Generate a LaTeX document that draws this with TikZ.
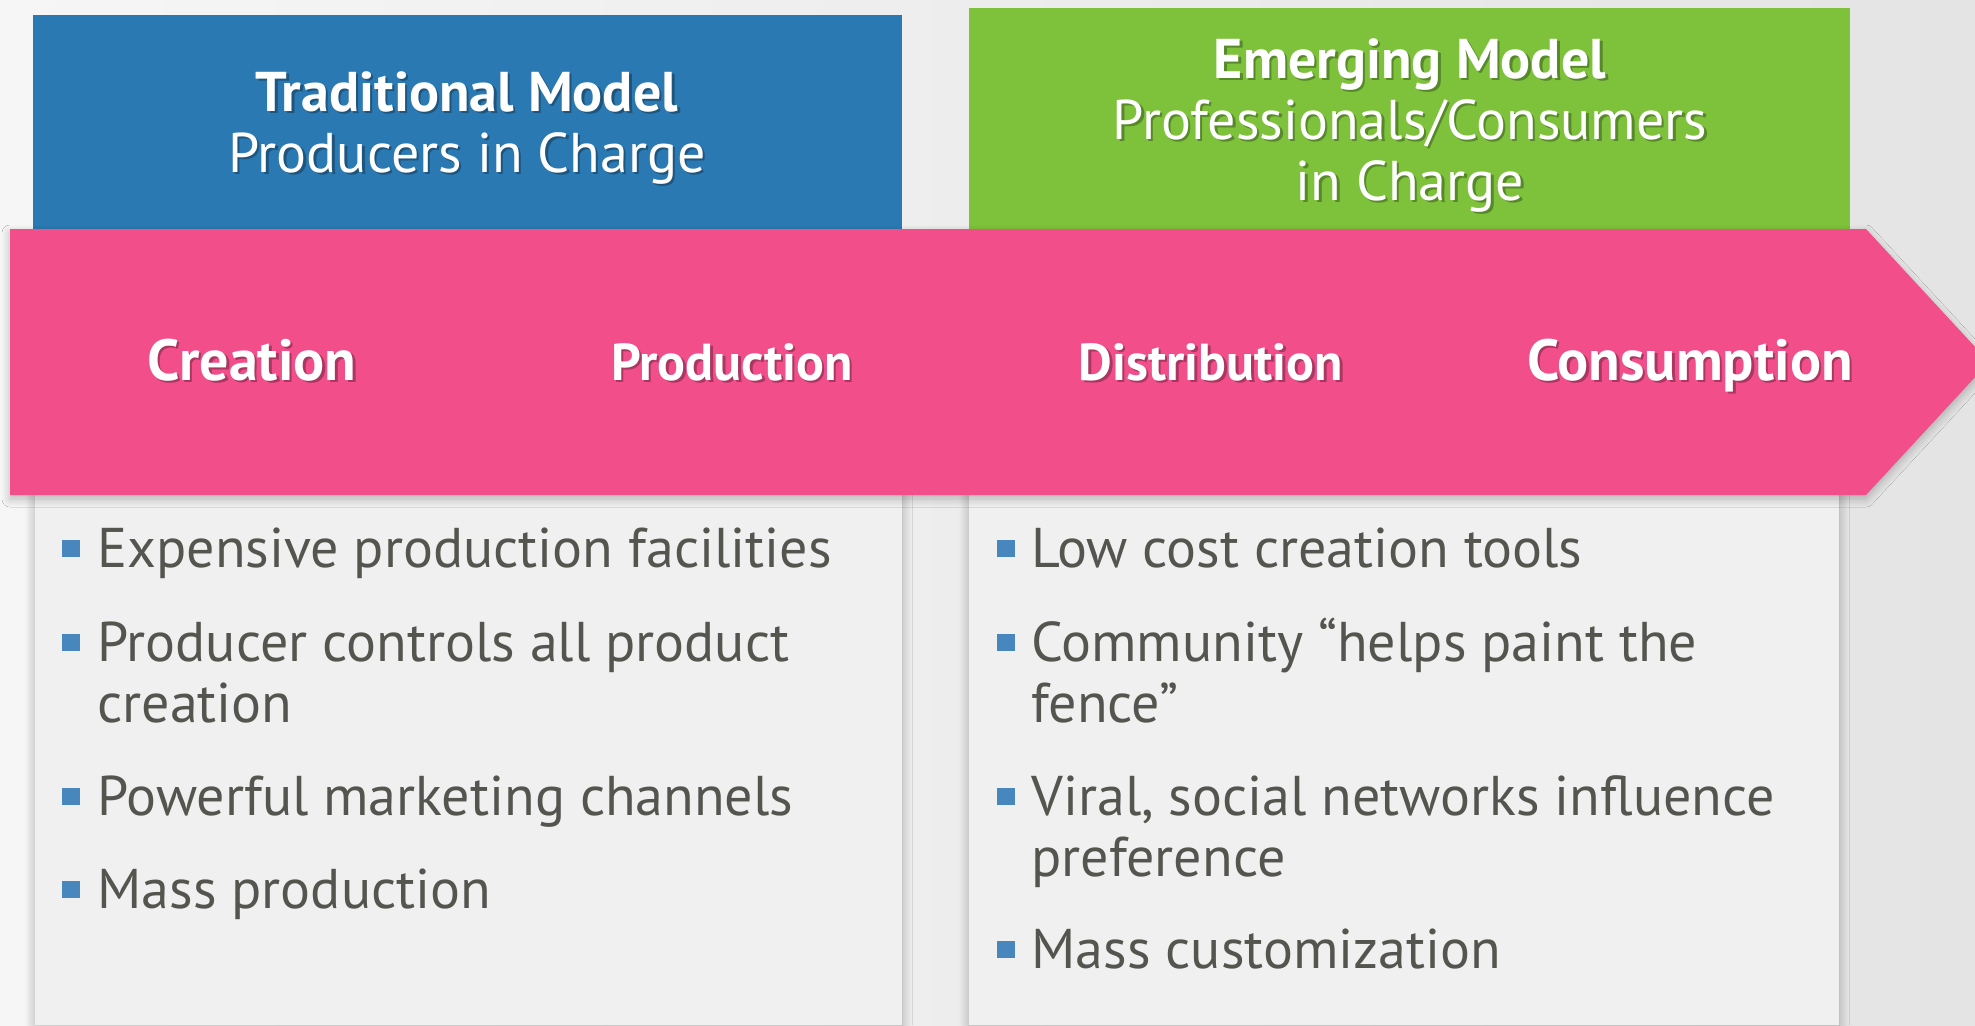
\documentclass[tikz,border=0pt]{standalone}
\usepackage{fontspec}
\setmainfont{PT Sans}
\usetikzlibrary{shadows.blur}
\definecolor{tradblue}{RGB}{43,121,178}
\definecolor{emergegreen}{RGB}{125,194,58}
\definecolor{flowpink}{RGB}{242,78,138}
\definecolor{panelgray}{RGB}{240,240,240}
\definecolor{bgleft}{RGB}{246,246,246}
\definecolor{bgright}{RGB}{228,228,228}
\definecolor{bodytext}{RGB}{85,85,80}
\definecolor{bulletblue}{RGB}{72,134,190}
\newcommand{\shtext}[2]{\leavevmode\rlap{\kern1.2pt\raisebox{-1.2pt}{\color{#1!70!black}#2}}#2}
\tikzset{
  hdrtext/.style={text=white, align=center, anchor=base, font=\fontsize{28}{30.5}\selectfont},
  stagebig/.style={text=white, anchor=base, font=\bfseries\fontsize{29}{32}\selectfont},
  stagesmall/.style={text=white, anchor=base, font=\bfseries\fontsize{26}{29}\selectfont},
  item/.style={text=bodytext, align=left, anchor=base west, inner sep=0pt, font=\fontsize{28}{30.5}\selectfont},
  panelshadow/.style={blur shadow={shadow blur steps=8, shadow xshift=0pt, shadow yshift=0pt, shadow blur radius=5pt, shadow opacity=30}}
}
\begin{document}
\begin{tikzpicture}[x=0.5pt, y=-0.5pt]
\useasboundingbox (0,0) rectangle (1975,1025);
\shade[left color=bgleft, right color=bgright] (0,0) rectangle (1975,1025);
\fill[panelgray, panelshadow] (35,495) rectangle (902,1025);
\fill[panelgray, panelshadow] (969,495) rectangle (1839,1025);
\fill[tradblue] (33,15) rectangle (902,229);
\fill[emergegreen] (969,8) rectangle (1850,229);
\fill[flowpink, blur shadow={shadow blur steps=8, shadow xshift=0pt, shadow yshift=-2pt, shadow blur radius=4pt, shadow opacity=25}]
  (10,229) -- (1866,229) -- (1989,362) -- (1866,495) -- (10,495) -- cycle;
\node[hdrtext] (trad) at (467,172) {\shtext{tradblue}{\textbf{Traditional Model}}\\\shtext{tradblue}{Producers in Charge}};
\node[hdrtext] (emerge) at (1410,200) {\shtext{emergegreen}{\textbf{Emerging Model}}\\\shtext{emergegreen}{Professionals/Consumers}\\\shtext{emergegreen}{in Charge}};
\node[stagebig] (creation) at (252,380) {\shtext{flowpink}{Creation}};
\node[stagesmall] (production) at (732,380) {\shtext{flowpink}{Production}};
\node[stagesmall] (distribution) at (1211,380) {\shtext{flowpink}{Distribution}};
\node[stagebig] (consumption) at (1690,380) {\shtext{flowpink}{Consumption}};
\node[item] (facilities) at (97,567) {Expensive production facilities};
\node[item] (controls) at (97,722) {Producer controls all product\\creation};
\node[item] (channels) at (97,815) {Powerful marketing channels};
\node[item] (massprod) at (97,908) {Mass production};
\node[item] (tools) at (1031,567) {Low cost creation tools};
\node[item] (community) at (1031,722) {Community “helps paint the\\fence”};
\node[item] (viral) at (1031,876) {Viral, social networks influence\\preference};
\node[item] (custom) at (1031,968) {Mass customization};
\foreach \y in {567,661,815,908} \fill[bulletblue] (62,\y-27) rectangle ++(18,17);
\foreach \y in {567,661,815,968} \fill[bulletblue] (997,\y-27) rectangle ++(18,17);
\end{tikzpicture}
\end{document}
